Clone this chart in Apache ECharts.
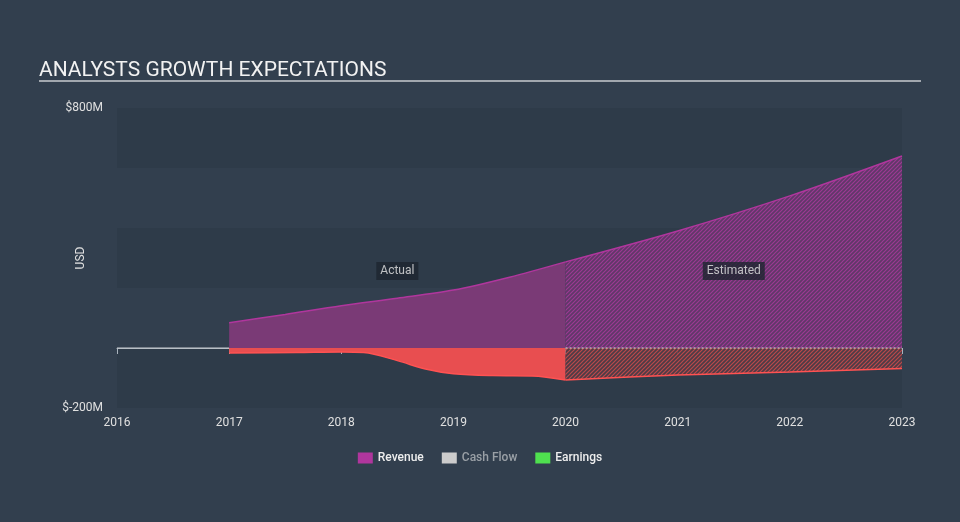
<!DOCTYPE html>
<html>
<head>
<meta charset="utf-8">
<script src="https://cdn.jsdelivr.net/npm/echarts@6/dist/echarts.min.js"></script>
<style>
html,body{margin:0;padding:0;background:#323f4e;}
#chart{width:960px;height:522px;}
</style>
</head>
<body>
<div id="chart"></div>
<script>
// ---- data ----
const xTicks = [2016, 2017, 2018, 2019, 2020, 2021, 2022, 2023];
const yTicksShown = { '800': '$800M', '-200': '$-200M' };
const revenueActual = [[2017, 84], [2017.5, 112], [2018, 141], [2018.5, 166], [2019, 193], [2019.5, 236], [2020, 287]];
const revenueEstimated = [[2020, 287], [2021, 390], [2022, 507], [2023, 640]];
const earningsActual = [[2017, -17], [2017.6, -15], [2018, -13], [2018.2, -15], [2018.5, -42], [2018.75, -70], [2019, -86], [2019.35, -92], [2019.7, -93], [2020, -107]];
const earningsEstimated = [[2020, -107], [2021, -90], [2022, -80], [2023, -68]];
const zeroSolid = [[2016, 0], [2017, 0]];
const zeroDashed = [[2020, 0], [2023, 0]];
const periodLabels = [[2018.5, 257, 'Actual'], [2021.5, 257, 'Estimated']];

function hatch(bg, fg) {
  const c = document.createElement('canvas');
  c.width = 4; c.height = 4;
  const g = c.getContext('2d');
  g.fillStyle = bg; g.fillRect(0, 0, 4, 4);
  g.strokeStyle = fg; g.lineWidth = 1.2;
  g.beginPath();
  g.moveTo(-1, 5); g.lineTo(5, -1);
  g.moveTo(-1, 1); g.lineTo(1, -1);
  g.moveTo(3, 5); g.lineTo(5, 3);
  g.stroke();
  return { image: c, repeat: 'repeat' };
}

const chart = echarts.init(document.getElementById('chart'), null, { renderer: 'canvas' });
const option = {
  backgroundColor: '#323f4e',
  animation: false,
  title: {
    text: 'ANALYSTS GROWTH EXPECTATIONS',
    left: 34, top: 55,
    textStyle: { color: '#f2f2f2', fontSize: 21, fontWeight: 'normal', fontFamily: 'Roboto' }
  },
  graphic: [{
    type: 'line', shape: { x1: 39, y1: 81, x2: 921, y2: 81 },
    style: { stroke: '#c8ccd0', lineWidth: 1.5 }, silent: true
  }],
  legend: {
    left: 'center', top: 447,
    itemWidth: 15, itemHeight: 11, itemGap: 18,
    textStyle: { color: '#eeeeee', fontSize: 12, fontFamily: 'Roboto', fontWeight: 500 },
    data: [
      { name: 'Revenue', icon: 'rect', itemStyle: { color: '#b0369d' } },
      { name: 'Cash Flow', icon: 'rect', itemStyle: { color: '#cccccc' }, textStyle: { color: '#9aa0a6' } },
      { name: 'Earnings', icon: 'rect', itemStyle: { color: '#4fe04f' } }
    ]
  },
  grid: { left: 117, right: 58, top: 108, bottom: 114 },
  xAxis: {
    type: 'value', min: 2016, max: 2023, interval: 1,
    axisLine: { lineStyle: { color: '#a9b3bd', width: 1 } },
    axisTick: { show: true, length: 6, lineStyle: { color: '#a9b3bd' } },
    axisLabel: { color: '#e0e0e0', fontSize: 12, fontFamily: 'Roboto', margin: 9,
      formatter: v => xTicks.includes(v) ? String(v) : '' },
    splitLine: { show: false }
  },
  yAxis: {
    type: 'value', min: -200, max: 800, interval: 200,
    name: 'USD', nameLocation: 'middle', nameGap: 30, nameMoveOverlap: false,
    nameTextStyle: { color: '#e0e0e0', fontSize: 12, fontFamily: 'Roboto' },
    axisLine: { show: false }, axisTick: { show: false },
    axisLabel: { color: '#e0e0e0', fontSize: 12, fontFamily: 'Roboto', margin: 14,
      formatter: v => yTicksShown[String(v)] || '' },
    splitLine: { show: false },
    splitArea: { show: true, areaStyle: { color: ['#2e3b49', 'rgba(0,0,0,0)'] } }
  },
  series: [
    { name: 'Cash Flow', type: 'line', data: [] },
    { name: 'zeroSolid', type: 'line', data: zeroSolid, symbol: 'none', z: 1,
      lineStyle: { color: '#c8ccd0', width: 1 } },
    { name: 'Revenue', type: 'line', data: revenueActual, symbol: 'none', smooth: 0.3, z: 3,
      lineStyle: { color: '#b0369d', width: 1.5 },
      areaStyle: { color: '#7a3a76', opacity: 1 } },
    { name: 'Revenue', type: 'line', data: revenueEstimated, symbol: 'none', smooth: 0.3, z: 3,
      lineStyle: { color: '#b0369d', width: 1.5 },
      areaStyle: { color: hatch('rgba(98,56,105,0.95)', 'rgba(160,58,150,0.95)'), opacity: 1 } },
    { name: 'Earnings', type: 'line', data: earningsActual, symbol: 'none', smooth: 0.35, z: 3,
      lineStyle: { color: '#ff5252', width: 1.5 },
      areaStyle: { color: '#e84e50', opacity: 1 } },
    { name: 'Earnings', type: 'line', data: earningsEstimated, symbol: 'none', smooth: 0.3, z: 3,
      lineStyle: { color: '#ff5252', width: 1.5 },
      areaStyle: { color: hatch('rgba(80,60,70,0.9)', 'rgba(200,75,75,0.9)'), opacity: 1 } },
    { name: 'zeroDashed', type: 'line', data: zeroDashed, symbol: 'none', z: 4,
      lineStyle: { color: '#e6e6e6', width: 1, type: [2, 2] } },
    { name: 'labels', type: 'scatter', symbolSize: 0, z: 5,
      data: periodLabels.map(d => ({ value: [d[0], d[1]], label: { formatter: d[2] } })),
      label: { show: true, position: 'inside', color: '#e6e6e6', fontSize: 12, fontFamily: 'Roboto',
        backgroundColor: '#1d2530', padding: [3, 4] } }
  ]
};
chart.setOption(option);
</script>
</body>
</html>
